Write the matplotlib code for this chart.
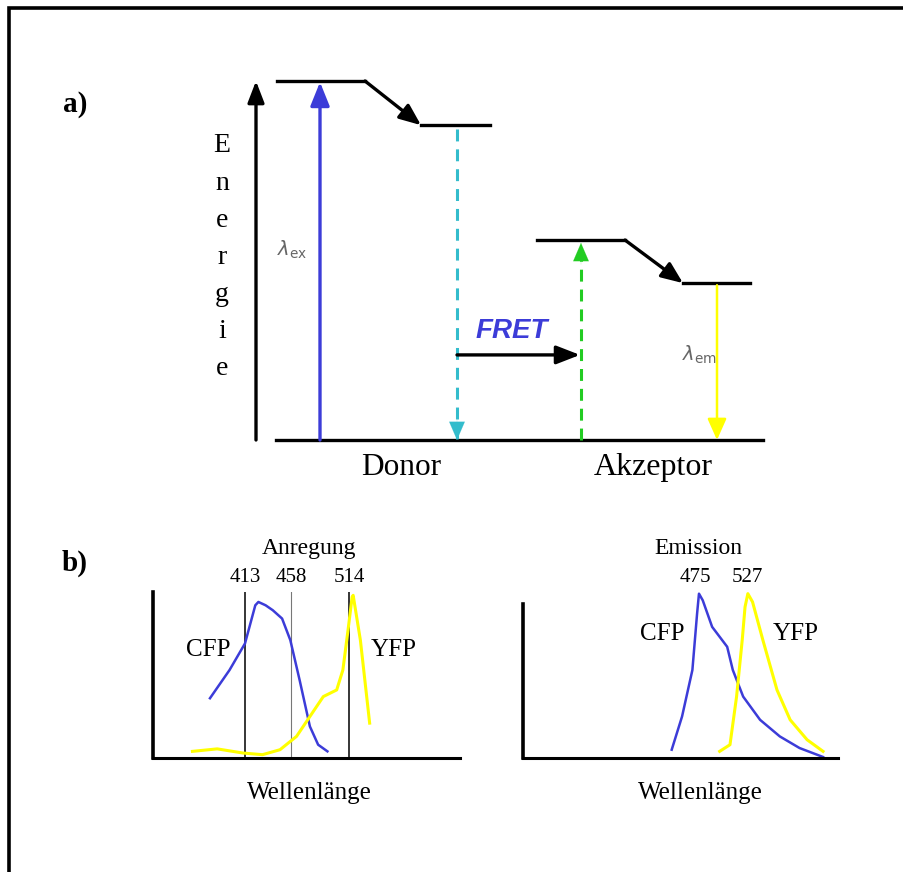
"""
FRET schematic: a) Jablonski-style energy diagram, b) CFP/YFP spectra.
"""

import matplotlib
matplotlib.use("Agg")
import matplotlib.pyplot as plt

plt.rcParams["font.family"] = ["Liberation Serif", "DejaVu Serif"]
plt.rcParams["mathtext.fontset"] = "dejavusans"

# ---- panel a data: energy levels (arbitrary units, ground = 0) ----
DONOR_EXCITED = 100.0
DONOR_RELAXED = 87.7
ACCEPTOR_EXCITED = 55.7
ACCEPTOR_RELAXED = 43.7
FRET_LEVEL = 23.7
ENERGY_LABEL = "Energie"

# ---- panel b data: excitation spectra (nm, relative intensity) ----
EXC_PEAKS = [413, 458, 514]
CFP_EXC_NM = [379, 398, 413, 423, 426, 433, 440, 449, 457, 466, 476, 484, 493]
CFP_EXC_I = [0.36, 0.53, 0.69, 0.92, 0.94, 0.92, 0.89, 0.84, 0.71, 0.47, 0.19, 0.08, 0.04]
YFP_EXC_NM = [362, 386, 411, 430, 447, 463, 476, 489, 502, 508, 513, 517, 518, 525, 534]
YFP_EXC_I = [0.04, 0.055, 0.03, 0.02, 0.05, 0.13, 0.25, 0.37, 0.41, 0.53, 0.77, 0.97, 0.98, 0.71, 0.21]

# ---- emission spectra ----
EM_PEAKS = [475, 527]
CFP_EM_NM = [446, 457, 468, 473, 475, 479, 489, 505, 511, 522, 540, 561, 582, 607]
CFP_EM_I = [0.05, 0.25, 0.53, 0.87, 0.99, 0.95, 0.79, 0.67, 0.53, 0.37, 0.23, 0.13, 0.06, 0.006]
YFP_EM_NM = [497, 508, 515, 521, 524, 527, 532, 543, 558, 572, 590, 607]
YFP_EM_I = [0.04, 0.08, 0.37, 0.71, 0.91, 0.99, 0.94, 0.71, 0.41, 0.23, 0.11, 0.04]

BLUE = "#3c3cd8"
CYAN = "#33bccc"
GREEN = "#22cc22"
YELLOW = "#ffff00"
W, H = 904, 872


def arrow(ax, x0, y0, x1, y1, color="black", lw=2.2, hl=0.65, hw=0.25):
    ax.annotate("", xy=(x1, y1), xytext=(x0, y0), annotation_clip=False,
                arrowprops=dict(arrowstyle=f"-|>,head_length={hl},head_width={hw}",
                                color=color, lw=lw, shrinkA=0, shrinkB=0,
                                mutation_scale=20, clip_on=False))


def dashed_arrow(ax, x, y0, y1, color, up):
    ax.plot([x, x], [y0, y1], color=color, lw=2.2, ls=(0, (3.9, 2.6)),
            solid_capstyle="butt", clip_on=False)
    step = 6 if up else -6
    arrow(ax, x, y1 - step, x, y1, color=color, lw=0.1, hl=0.65, hw=0.28)


fig = plt.figure(figsize=(W / 100, H / 100), dpi=100)

# overlay in pixel coordinates: frame + labels
ov = fig.add_axes([0, 0, 1, 1])
ov.set_xlim(0, W)
ov.set_ylim(H, 0)
ov.axis("off")
ov.plot([9.5, 9.5, W], [H, 8.5, 8.5], color="black", lw=2.6, solid_joinstyle="miter")
ov.text(75, 104, "a)", fontsize=21, fontweight="bold", ha="center", va="center")
ov.text(75, 563, "b)", fontsize=21, fontweight="bold", ha="center", va="center")
for i, ch in enumerate(ENERGY_LABEL):
    ov.text(222, 146 + i * 37, ch, fontsize=20, ha="center", va="center")
ov.text(292, 250, r"$\lambda_{\mathrm{ex}}$", fontsize=14, color="#666666",
        ha="center", va="center")
ov.text(700, 355, r"$\lambda_{\mathrm{em}}$", fontsize=14, color="#666666",
        ha="center", va="center")
ov.text(512, 331, "FRET", fontsize=20, fontweight="bold", fontstyle="italic",
        family=["Liberation Sans", "DejaVu Sans"], color=BLUE, ha="center", va="center")
ov.text(401, 467, "Donor", fontsize=22.5, ha="center", va="center")
ov.text(653, 467, "Akzeptor", fontsize=23, ha="center", va="center")

# ---- panel a: energy diagram (x in pixels, y in energy units) ----
ax = fig.add_axes([0, (H - 440) / H, 1, 359 / H])
ax.set_xlim(0, W)
ax.set_ylim(0, 100)
ax.axis("off")
ax.patch.set_alpha(0)

arrow(ax, 256, 0, 256, DONOR_EXCITED, lw=2.4, hl=0.65, hw=0.25)
ax.plot([276, 763], [0, 0], color="black", lw=2.4, clip_on=False)

# donor levels with vibrational relaxation
ax.plot([277, 365], [DONOR_EXCITED] * 2, color="black", lw=2.4, clip_on=False)
arrow(ax, 365, DONOR_EXCITED, 421, DONOR_RELAXED, lw=2.4, hl=0.65, hw=0.27)
ax.plot([421, 490], [DONOR_RELAXED] * 2, color="black", lw=2.4, clip_on=False)

# acceptor levels
ax.plot([537, 625], [ACCEPTOR_EXCITED] * 2, color="black", lw=2.4, clip_on=False)
arrow(ax, 625, ACCEPTOR_EXCITED, 683, ACCEPTOR_RELAXED, lw=2.4, hl=0.65, hw=0.27)
ax.plot([683, 750], [ACCEPTOR_RELAXED] * 2, color="black", lw=2.4, clip_on=False)

# transitions
arrow(ax, 320, 0, 320, DONOR_EXCITED - 0.3, color=BLUE, lw=2.4, hl=0.72, hw=0.29)
dashed_arrow(ax, 457, DONOR_RELAXED - 1, 0, CYAN, up=False)
dashed_arrow(ax, 581, 0, ACCEPTOR_EXCITED - 0.8, GREEN, up=True)
arrow(ax, 717, ACCEPTOR_RELAXED - 0.6, 717, 0, color=YELLOW, lw=1.8, hl=0.65, hw=0.29)
arrow(ax, 457, FRET_LEVEL, 580, FRET_LEVEL, lw=2.4, hl=0.72, hw=0.28)

# ---- panel b: spectra ----
def spectrum_axes(x0, x1, nm_lim, ytop):
    a = fig.add_axes([x0 / W, (H - 758) / H, (x1 - x0) / W, 166 / H])
    a.set_xlim(*nm_lim)
    a.set_ylim(0, 1)
    a.patch.set_alpha(0)
    for side in ("top", "right"):
        a.spines[side].set_visible(False)
    a.spines["left"].set_linewidth(2.6)
    a.spines["bottom"].set_linewidth(2.2)
    a.spines["left"].set_bounds(0, ytop)
    a.set_xticks([])
    a.set_yticks([])
    return a

ax1 = spectrum_axes(153, 460, (323.7, 621.7), 1.0)
for nm in EXC_PEAKS:
    grey = nm == 458
    ax1.plot([nm, nm], [0, 1], color="#777777" if grey else "black",
             lw=0.8 if grey else 1.1, zorder=1)
    ax1.text(nm, 1.09, str(nm), fontsize=15, ha="center", va="center")
ax1.plot(CFP_EXC_NM, CFP_EXC_I, color=BLUE, lw=1.8, clip_on=False)
ax1.plot(YFP_EXC_NM, YFP_EXC_I, color=YELLOW, lw=2.2, clip_on=False)
ax1.text(475, 1.265, "Anregung", fontsize=17, ha="center", va="center")
ax1.text(377, 0.65, "CFP", fontsize=18, ha="center", va="center")
ax1.text(557, 0.65, "YFP", fontsize=18, ha="center", va="center")
ax1.text(476, -0.21, "Wellenlänge", fontsize=18, ha="center", va="center")

ax2 = spectrum_axes(523, 838, (287.8, 622.9), 0.93)
for nm, xl in zip(EM_PEAKS, [471, 526]):
    ax2.text(xl, 1.09, str(nm), fontsize=15, ha="center", va="center")
ax2.plot(CFP_EM_NM, CFP_EM_I, color=BLUE, lw=1.8, clip_on=False)
ax2.plot(YFP_EM_NM, YFP_EM_I, color=YELLOW, lw=2.2, clip_on=False)
ax2.text(474, 1.26, "Emission", fontsize=17, ha="center", va="center")
ax2.text(435.6, 0.75, "CFP", fontsize=18, ha="center", va="center")
ax2.text(578, 0.75, "YFP", fontsize=18, ha="center", va="center")
ax2.text(476, -0.21, "Wellenlänge", fontsize=18, ha="center", va="center")

fig.savefig("out.png", dpi=100)
